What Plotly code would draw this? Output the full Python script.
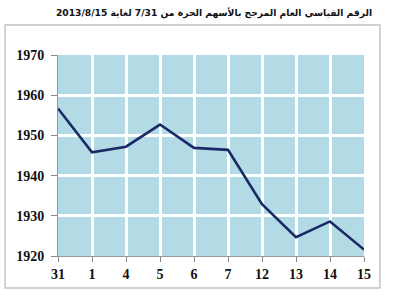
import plotly.graph_objects as go

categories = ["31", "1", "4", "5", "6", "7", "12", "13", "14", "15"]
values = [1956.7, 1945.8, 1947.2, 1952.7, 1946.9, 1946.4, 1932.9, 1924.7, 1928.6, 1921.6]
y_ticks = [1920, 1930, 1940, 1950, 1960, 1970]
title_text = "الرقم القياسي العام المرجح بالأسهم الحرة من 7/31 لغاية 2013/8/15"

fig = go.Figure()
fig.add_trace(go.Scatter(
    x=categories, y=values, mode="lines",
    line=dict(color="#1b2a66", width=2.6),
    hoverinfo="skip",
))

tickfont = dict(family="Liberation Serif, Times New Roman, serif", size=14,
                color="#111111", weight="bold")

fig.update_layout(
    width=400, height=300,
    margin=dict(l=58, r=36, t=55, b=44),
    paper_bgcolor="white",
    plot_bgcolor="#b2dbe5",
    showlegend=False,
    title=dict(
        text="<b>" + title_text + "</b>",
        x=0.535, xanchor="center", y=0.958, yanchor="middle",
        font=dict(family="DejaVu Sans, Liberation Serif, serif", size=9.2, color="#111111"),
    ),
    xaxis=dict(
        type="category", categoryorder="array", categoryarray=categories,
        range=[0, len(categories) - 1],
        showgrid=True, gridcolor="white", gridwidth=3,
        ticks="outside", ticklen=5, tickcolor="#888888", tickwidth=1,
        showline=True, linecolor="#999999", linewidth=1,
        tickfont=tickfont, zeroline=False,
    ),
    yaxis=dict(
        range=[1920, 1970], tickvals=y_ticks,
        showgrid=True, gridcolor="white", gridwidth=3,
        ticks="outside", ticklen=6, tickcolor="#888888", tickwidth=1,
        showline=True, linecolor="#999999", linewidth=1,
        tickfont=tickfont, zeroline=False, ticklabelstandoff=4,
    ),
    shapes=[dict(
        type="rect", xref="paper", yref="paper",
        x0=-0.173, x1=1.052, y0=-0.159, y1=1.149,
        line=dict(color="#c4c4c4", width=1.5), fillcolor="rgba(0,0,0,0)",
        layer="below",
    )],
)

fig.write_html("out.html")
